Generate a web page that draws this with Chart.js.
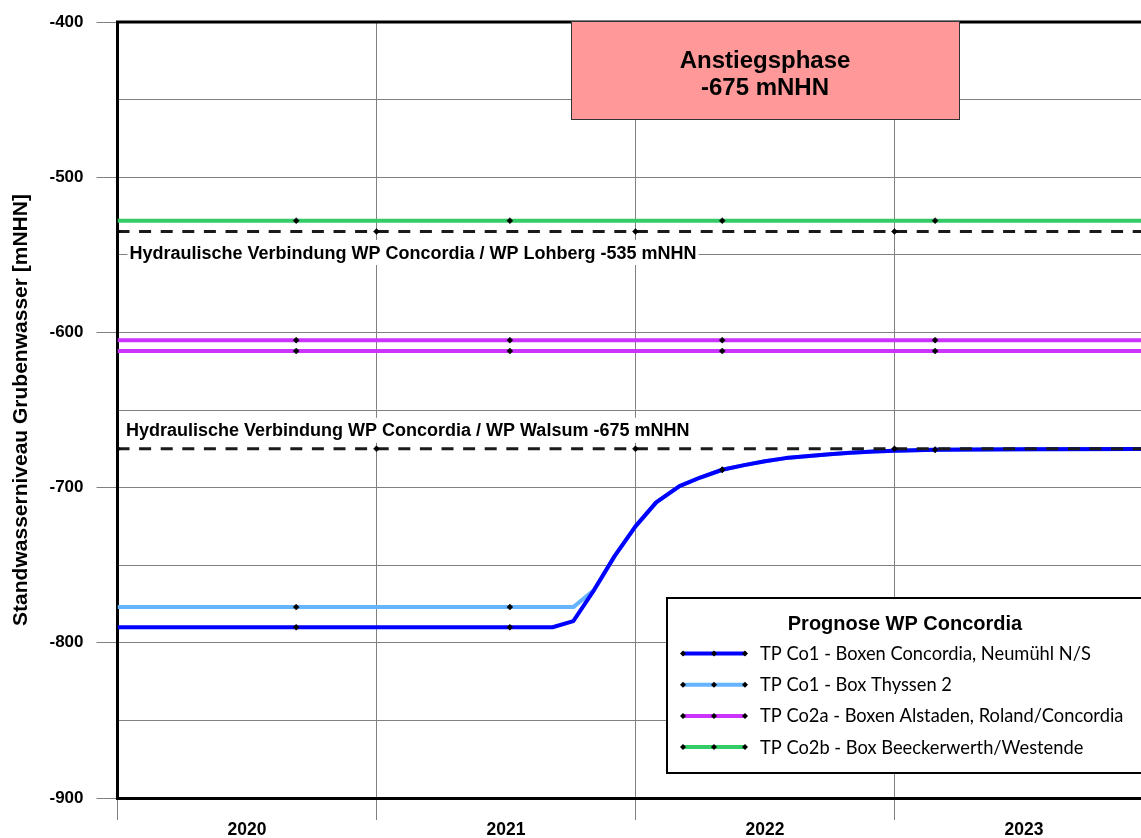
<!DOCTYPE html>
<html>
<head>
<meta charset="utf-8">
<script src="https://cdn.jsdelivr.net/npm/chart.js@4.4.0/dist/chart.umd.min.js"></script>
<style>
html,body{margin:0;padding:0;background:#fff;overflow:hidden}
#wrap{width:1141px;height:838px;position:relative}
</style>
</head>
<body>
<div id="wrap"><canvas id="c"></canvas></div>
<script>
// ---------- data ----------
const yearTicks = [2020, 2021, 2022, 2023];
const yearLabels = ['2020', '2021', '2022', '2023'];
const markerYears = [2020.69, 2021.515, 2022.335, 2023.157];

const co1Dates      = [2020.0, 2020.69, 2021.515, 2021.68, 2021.76, 2021.84, 2021.92, 2022.0, 2022.08, 2022.17, 2022.25, 2022.335, 2022.42, 2022.5, 2022.58, 2022.67, 2022.75, 2022.83, 2022.92, 2023.0, 2023.157, 2023.5, 2023.96];
const co1Concordia  = [-790, -790, -790, -790, -786, -766, -744, -725, -709.5, -699, -693.5, -688.5, -685.5, -683, -681, -679.7, -678.5, -677.6, -676.8, -676.2, -675.6, -675.3, -675.2];
const co1Thyssen    = [-777, -777, -777, -777, -777, -766, -744, -725, -709.5, -699, -693.5, -688.5, -685.5, -683, -681, -679.7, -678.5, -677.6, -676.8, -676.2, -675.6, -675.3, -675.2];

const flatDates     = [2020.0, 2020.69, 2021.515, 2022.335, 2023.157, 2023.96];
const co2aAlstaden  = [-605, -605, -605, -605, -605, -605];
const co2aRoland    = [-612, -612, -612, -612, -612, -612];
const co2bBeecker   = [-528, -528, -528, -528, -528, -528];

const hydroDates    = [2020, 2021, 2022, 2023, 2023.96];
const hydroLohberg  = [-535, -535, -535, -535, -535];
const hydroWalsum   = [-675, -675, -675, -675, -675];

const seriesNames = [
  'TP Co1 - Boxen Concordia, Neumühl N/S',
  'TP Co1 - Box Thyssen 2',
  'TP Co2a - Boxen Alstaden, Roland/Concordia',
  'TP Co2b - Box Beeckerwerth/Westende'
];
const hydroLabels = [
  'Hydraulische Verbindung WP Concordia / WP Lohberg -535 mNHN',
  'Hydraulische Verbindung WP Concordia / WP Walsum -675 mNHN'
];
const legendTitle = 'Prognose WP Concordia';
const phaseText = ['Anstiegsphase', '-675 mNHN'];
const phaseFrom = 2021.75, phaseTo = 2023.25, phaseTop = -400, phaseBottom = -462.5;

// ---------- helpers ----------
const pts = (xs, ys) => xs.map((x, i) => ({x: x, y: ys[i]}));
const markerRadius = list => ctx => (ctx.raw && list.includes(ctx.raw.x)) ? 3 : 0;
const SANS = '"Liberation Sans", Arial, sans-serif';

function diamond(ctx, x, y, r) {
  ctx.beginPath();
  ctx.moveTo(x, y - r); ctx.lineTo(x + r, y); ctx.lineTo(x, y + r); ctx.lineTo(x - r, y);
  ctx.closePath(); ctx.fill();
}

function lineDs(label, data, color, order, inLegend, markers) {
  return {
    label: label, data: data, borderColor: color, backgroundColor: '#000',
    borderWidth: 4, pointStyle: 'rectRot', pointRadius: markerRadius(markers),
    pointBackgroundColor: '#000', pointBorderColor: '#000', pointBorderWidth: 0.5,
    pointHoverRadius: 0, tension: 0, fill: false, order: order, inLegend: inLegend,
    borderJoinStyle: 'round'
  };
}

const datasets = [
  Object.assign(lineDs('hydro1', pts(hydroDates, hydroLohberg), '#1a1a1a', 0, false, yearTicks), {borderWidth: 3, borderDash: [12, 9.6]}),
  Object.assign(lineDs('hydro2', pts(hydroDates, hydroWalsum), '#1a1a1a', 0, false, yearTicks), {borderWidth: 3, borderDash: [12, 9.6]}),
  lineDs(seriesNames[0], pts(co1Dates, co1Concordia), '#0000FF', 1, true, markerYears),
  lineDs(seriesNames[1], pts(co1Dates, co1Thyssen), '#66B3FF', 2, true, markerYears),
  lineDs(seriesNames[2], pts(flatDates, co2aAlstaden), '#CC33FF', 3, true, markerYears),
  lineDs(seriesNames[2], pts(flatDates, co2aRoland), '#CC33FF', 3, false, markerYears),
  lineDs(seriesNames[3], pts(flatDates, co2bBeecker), '#33CC66', 3, true, markerYears)
];

// ---------- decorations ----------
const decor = {
  id: 'decor',
  beforeDatasetsDraw(chart) {
    const {ctx, chartArea: a, scales: {x, y}} = chart;
    ctx.save();
    // top frame line
    ctx.strokeStyle = '#000'; ctx.lineWidth = 3;
    ctx.beginPath(); ctx.moveTo(a.left - 1.5, a.top); ctx.lineTo(a.right + 2, a.top); ctx.stroke();

    // phase box
    const x0 = Math.round(x.getPixelForValue(phaseFrom)), x1 = Math.round(x.getPixelForValue(phaseTo));
    const y0 = Math.round(y.getPixelForValue(phaseTop)) - 1, y1 = Math.round(y.getPixelForValue(phaseBottom));
    ctx.fillStyle = '#FF9999';
    ctx.fillRect(x0, y0, x1 - x0, y1 - y0);
    ctx.strokeStyle = '#333'; ctx.lineWidth = 1;
    ctx.strokeRect(x0 + 0.5, y0 + 0.5, x1 - x0, y1 - y0);
    ctx.fillStyle = '#000';
    ctx.font = 'bold 24px ' + SANS;
    ctx.textAlign = 'center'; ctx.textBaseline = 'alphabetic';
    const cx = (x0 + x1) / 2;
    ctx.fillText(phaseText[0], cx, y0 + 46.5);
    ctx.fillText(phaseText[1], cx, y0 + 73.5);

    // hydraulic connection labels
    ctx.font = 'bold 18px ' + SANS;
    ctx.textAlign = 'left';
    const labs = [
      {t: hydroLabels[0], v: -535, dy: 20.5, dx: 12},
      {t: hydroLabels[1], v: -675, dy: -19, dx: 8.5}
    ];
    labs.forEach(l => {
      const py = y.getPixelForValue(l.v) + l.dy;
      const px = a.left + l.dx;
      const w = ctx.measureText(l.t).width;
      ctx.fillStyle = '#fff';
      ctx.fillRect(px - 2, py - 12, w + 4, 25);
      ctx.fillStyle = '#000';
      ctx.fillText(l.t, px, py + 6.5);
    });
    ctx.restore();
  },
  afterDatasetsDraw(chart) {
    const {ctx} = chart;
    ctx.save();
    const L = {left: 667, top: 598, right: 1143, bottom: 773};
    ctx.fillStyle = '#fff';
    ctx.fillRect(L.left, L.top, L.right - L.left, L.bottom - L.top);
    ctx.strokeStyle = '#000'; ctx.lineWidth = 2;
    ctx.strokeRect(L.left, L.top, L.right - L.left, L.bottom - L.top);
    ctx.fillStyle = '#000';
    ctx.font = 'bold 20px ' + SANS;
    ctx.textAlign = 'center'; ctx.textBaseline = 'alphabetic';
    ctx.fillText(legendTitle, (L.left + L.right) / 2, 630);
    const items = chart.data.datasets.filter(d => d.inLegend);
    ctx.textAlign = 'left';
    ctx.font = '18.3px Lato, "Noto Sans", sans-serif';
    items.forEach((d, i) => {
      const yy = 653.5 + i * 31.2;
      ctx.strokeStyle = d.borderColor; ctx.lineWidth = 4; ctx.lineCap = 'butt';
      ctx.beginPath(); ctx.moveTo(683, yy); ctx.lineTo(745, yy); ctx.stroke();
      ctx.fillStyle = '#000';
      [683, 714, 745].forEach(px => diamond(ctx, px, yy, 3));
      ctx.fillText(d.label, 760, yy + 6.5);
    });
    ctx.restore();
  }
};

// ---------- chart ----------
new Chart(document.getElementById('c'), {
  type: 'line',
  data: {datasets: datasets},
  plugins: [decor],
  options: {
    responsive: true,
    maintainAspectRatio: false,
    animation: false,
    layout: {autoPadding: false, padding: {top: 22, right: 0, left: 0, bottom: 0}},
    plugins: {legend: {display: false}, tooltip: {enabled: false}},
    events: [],
    scales: {
      x: {
        type: 'linear', min: 2020, max: 2023.952,
        afterBuildTicks: s => { s.ticks = yearTicks.map(v => ({value: v})); },
        afterFit: s => { s.height = 40; s.paddingLeft = 0; s.paddingRight = 0; },
        ticks: {
          autoSkip: false, maxRotation: 0, minRotation: 0,
          labelOffset: 129.5, padding: 0, color: '#000',
          font: {family: SANS, size: 17.5, weight: 'bold'},
          callback: (v) => yearLabels[yearTicks.indexOf(v)]
        },
        grid: {color: '#808080', lineWidth: 1, drawTicks: true, tickLength: 22, tickColor: '#808080'},
        border: {color: '#000', width: 3}
      },
      y: {
        type: 'linear', min: -900, max: -400,
        afterFit: s => { s.width = 117.5; s.paddingTop = 0; s.paddingBottom = 0; },
        ticks: {
          stepSize: 50, padding: 13, color: '#000',
          font: {family: SANS, size: 17, weight: 'bold'},
          callback: v => (v % 100 === 0 ? String(v) : '')
        },
        grid: {
          color: '#808080', lineWidth: 1, drawTicks: true, tickLength: 21,
          tickColor: c => (c.tick && c.tick.value % 100 === 0 ? '#808080' : 'rgba(0,0,0,0)')
        },
        border: {color: '#000', width: 3},
        title: {
          display: true, text: 'Standwasserniveau Grubenwasser [mNHN]', color: '#000',
          font: {family: SANS, size: 21, weight: 'bold'}, padding: {top: 9, bottom: 0}
        }
      }
    }
  }
});
</script>
</body>
</html>
